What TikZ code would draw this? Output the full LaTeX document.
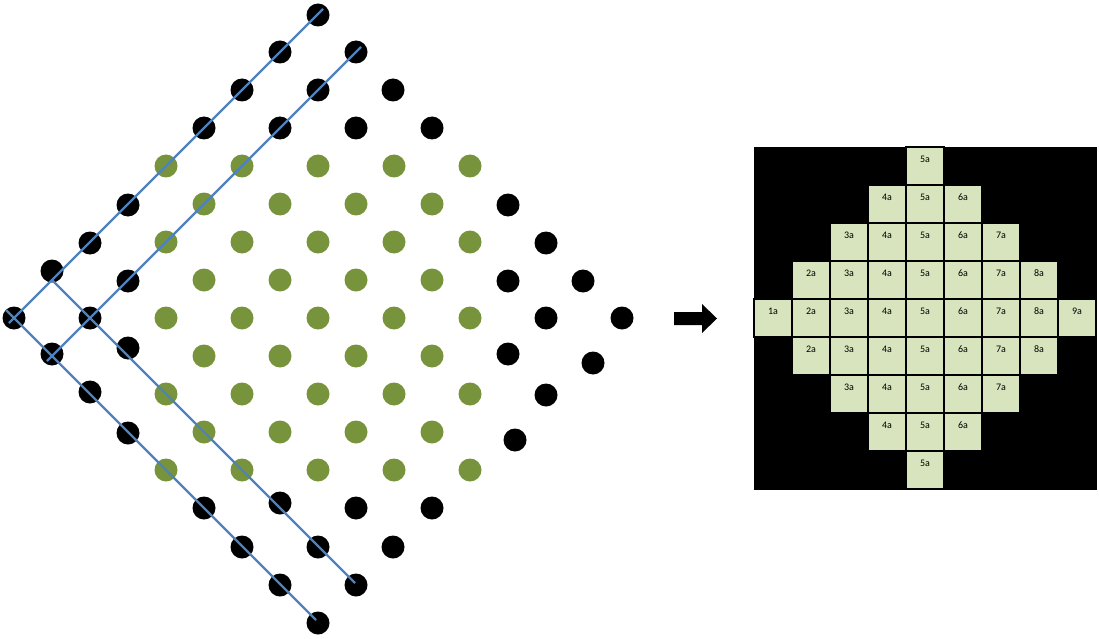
\documentclass[tikz,border=0pt]{standalone}
\usepackage{fontspec}
\setmainfont{Carlito}
\usetikzlibrary{calc}
\definecolor{dot-green}{RGB}{119, 147, 60}
\definecolor{line-blue}{RGB}{79, 129, 189}
\definecolor{cell-green}{RGB}{215, 228, 189}
\tikzset{
  dot/.style={circle, fill=black, inner sep=0pt, minimum size=23pt},
  gdot/.style={dot, fill=dot-green},
  diag/.style={draw=line-blue, line width=2.4pt},
  cell/.style={rectangle, draw=black, line width=1.3pt, fill=cell-green,
    minimum size=38pt, inner sep=0pt},
  tag/.style={inner sep=0pt, font=\fontsize{10}{12}\selectfont}
}

\begin{document}
\begin{tikzpicture}[x=1pt, y=-1pt]
\useasboundingbox (0,0) rectangle (1099,639);
% green checkerboard
\foreach \j in {0,2,...,8} \foreach \i in {0,2,...,8}
  \node[gdot] (g-\i-\j) at (166+38*\i, 166+38*\j) {};
\foreach \j in {1,3,5,7} \foreach \i in {1,3,5,7}
  \node[gdot] (g-\i-\j) at (166+38*\i, 166+38*\j) {};
% black rim
\node[dot] (top1) at (318,15) {};
\node[dot] (top2) at (280,52) {};
\node[dot] (top3) at (356,52) {};
\node[dot] (top4) at (242,90) {};
\node[dot] (top5) at (318,90) {};
\node[dot] (top6) at (393,90) {};
\node[dot] (top7) at (204,128) {};
\node[dot] (top8) at (280,128) {};
\node[dot] (top9) at (356,128) {};
\node[dot] (top10) at (432,128) {};
\node[dot] (left1) at (128,205) {};
\node[dot] (left2) at (90,243) {};
\node[dot] (left3) at (52,271) {};
\node[dot] (left4) at (128,281) {};
\node[dot] (left5) at (14,318) {};
\node[dot] (left6) at (90,318) {};
\node[dot] (left7) at (52,354) {};
\node[dot] (left8) at (128,348) {};
\node[dot] (left9) at (90,392) {};
\node[dot] (left10) at (128,433) {};
\node[dot] (right1) at (508,205) {};
\node[dot] (right2) at (546,243) {};
\node[dot] (right3) at (508,281) {};
\node[dot] (right4) at (583,281) {};
\node[dot] (right5) at (546,318) {};
\node[dot] (right6) at (622,318) {};
\node[dot] (right7) at (508,354) {};
\node[dot] (right8) at (593,363) {};
\node[dot] (right9) at (546,395) {};
\node[dot] (right10) at (515,440) {};
\node[dot] (bot1) at (204,508) {};
\node[dot] (bot2) at (280,503) {};
\node[dot] (bot3) at (356,508) {};
\node[dot] (bot4) at (432,508) {};
\node[dot] (bot5) at (242,547) {};
\node[dot] (bot6) at (318,547) {};
\node[dot] (bot7) at (393,547) {};
\node[dot] (bot8) at (280,585) {};
\node[dot] (bot9) at (356,585) {};
\node[dot] (bot10) at (318,623) {};
% blue diagonals
\coordinate (up1s) at (9,323);
\coordinate (up1e) at (323,9);
\coordinate (up2s) at (47,361);
\coordinate (up2e) at (361,47);
\coordinate (dn1s) at (6,310);
\coordinate (dn1e) at (316,620);
\coordinate (dn2s) at (52,280);
\coordinate (dn2e) at (355,583);
\draw[diag] (up1s) -- (up1e);
\draw[diag] (up2s) -- (up2e);
\draw[diag] (dn1s) -- (dn1e);
\draw[diag] (dn2s) -- (dn2e);
% arrow
\fill[black] (674,312) -- (702,312) -- (702,304) -- (717,318.5) -- (702,333)
  -- (702,325) -- (674,325) -- cycle;
% right map
\fill[black] (754,147) rectangle (1097,490);
\foreach \r/\a/\b in {1/5/5,2/4/6,3/3/7,4/2/8,5/1/9,6/2/8,7/3/7,8/4/6,9/5/5}
  \foreach \c in {\a,...,\b} {
    \node[cell] (c-\r-\c) at (735+38*\c, 128+38*\r) {};
    \node[tag] (t-\r-\c) at ($(c-\r-\c.north)+(0,13)$) {\c a};
  }
\end{tikzpicture}
\end{document}
